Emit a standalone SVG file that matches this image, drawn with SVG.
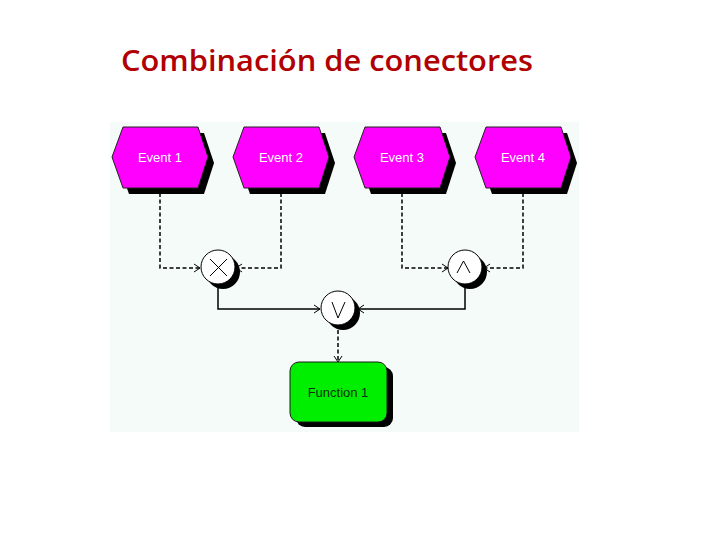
<svg xmlns="http://www.w3.org/2000/svg" width="720" height="540" viewBox="0 0 720 540">
  <defs>
    <style>
      .title { font-family: "Open Sans", "Liberation Sans", sans-serif; font-size: 28px; font-weight: 600; fill: #b00000; }
      .evt { fill: #ff00ff; stroke: #222; stroke-width: 1; }
      .shadow { fill: #000; }
      .lbl { font-family: "Liberation Sans", Arial, sans-serif; font-size: 13px; text-anchor: middle; dominant-baseline: central; }
      .evtlbl { fill: #ffffff; }
      .fnlbl { fill: #103010; }
      .conn { fill: #fff; stroke: #000; stroke-width: 1; }
      .sym { fill: none; stroke: #000; stroke-width: 1; }
      .dash { fill: none; stroke: #000; stroke-width: 1.5; stroke-dasharray: 4 2.5; }
      .solid { fill: none; stroke: #000; stroke-width: 1.5; }
    </style>
    <marker id="arr" markerWidth="10" markerHeight="10" refX="8" refY="5" orient="auto" markerUnits="userSpaceOnUse">
      <path d="M2,1 L8,5 L2,9" fill="none" stroke="#000" stroke-width="1"/>
    </marker>
  </defs>

  <rect width="720" height="540" fill="#ffffff"/>
  <rect x="110" y="122" width="469" height="310" fill="#f5fbf8"/>

  <text class="title" x="121" y="71" textLength="412" lengthAdjust="spacingAndGlyphs">Combinación de conectores</text>

  <g id="connectors">
    <path class="dash" d="M160,193 V268 H200" marker-end="url(#arr)"/>
    <path class="dash" d="M281,193 V268 H236" marker-end="url(#arr)"/>
    <path class="dash" d="M402,193 V268 H448" marker-end="url(#arr)"/>
    <path class="dash" d="M523,193 V268 H484" marker-end="url(#arr)"/>
    <path class="solid" d="M218,286 V309 H320" marker-end="url(#arr)"/>
    <path class="solid" d="M465,286 V309 H358" marker-end="url(#arr)"/>
    <path class="dash" d="M338,330 V362" marker-end="url(#arr)"/>
  </g>

  <g id="event1">
    <polygon class="shadow" points="118,163 129,133 204,133 214,163 204,194 129,194"/>
    <polygon class="evt" points="112,157 123,127 198,127 208,157 198,188 123,188"/>
    <text class="lbl evtlbl" x="160" y="157">Event 1</text>
  </g>
  <g id="event2">
    <polygon class="shadow" points="239,163 250,133 325,133 335,163 325,194 250,194"/>
    <polygon class="evt" points="233,157 244,127 319,127 329,157 319,188 244,188"/>
    <text class="lbl evtlbl" x="281" y="157">Event 2</text>
  </g>
  <g id="event3">
    <polygon class="shadow" points="360,163 371,133 446,133 456,163 446,194 371,194"/>
    <polygon class="evt" points="354,157 365,127 440,127 450,157 440,188 365,188"/>
    <text class="lbl evtlbl" x="402" y="157">Event 3</text>
  </g>
  <g id="event4">
    <polygon class="shadow" points="481,163 492,133 567,133 577,163 567,194 492,194"/>
    <polygon class="evt" points="475,157 486,127 561,127 571,157 561,188 486,188"/>
    <text class="lbl evtlbl" x="523" y="157">Event 4</text>
  </g>

  <g id="xor">
    <circle class="shadow" cx="223" cy="272" r="17"/>
    <circle class="conn" cx="218" cy="267" r="17"/>
    <path class="sym" d="M210,259 L227,276 M227,259 L210,276"/>
  </g>
  <g id="or">
    <circle class="shadow" cx="343" cy="313" r="17"/>
    <circle class="conn" cx="338" cy="308" r="17"/>
    <path class="sym" d="M332,302 L338,318 L345,302"/>
  </g>
  <g id="and">
    <circle class="shadow" cx="470" cy="272" r="17"/>
    <circle class="conn" cx="465" cy="267" r="17"/>
    <path class="sym" d="M457,273 L463.5,261 L470,273"/>
  </g>

  <g id="function1">
    <rect class="shadow" x="296" y="367" width="97" height="60" rx="9"/>
    <rect x="290" y="362" width="97" height="60" rx="9" fill="#00ee00" stroke="#1a1a1a" stroke-width="1"/>
    <text class="lbl fnlbl" x="338" y="392">Function 1</text>
  </g>
</svg>
